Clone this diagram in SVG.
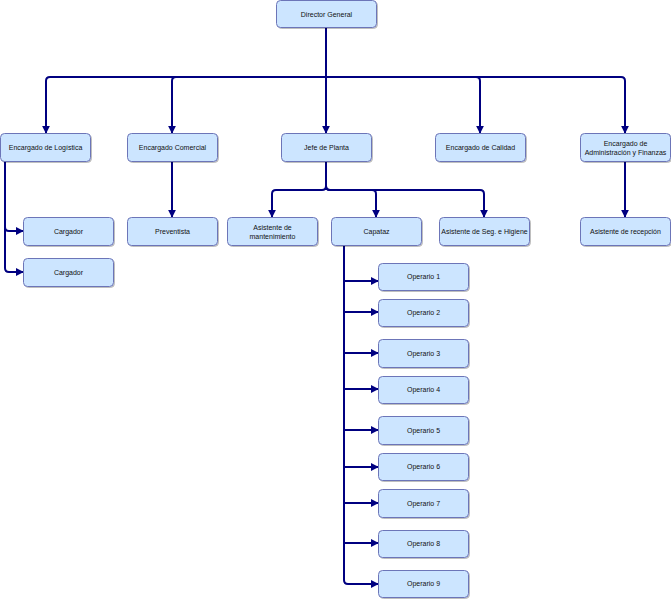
<svg xmlns="http://www.w3.org/2000/svg" width="671" height="600" viewBox="0 0 671 600">
<defs>
<marker id="ah" viewBox="0 0 10 10" refX="9" refY="5" markerWidth="4" markerHeight="4" orient="auto" markerUnits="strokeWidth">
<path d="M0,0 L10,5 L0,10 Z" fill="#000080"/>
</marker>
<filter id="sh" x="-10%" y="-10%" width="130%" height="140%">
<feDropShadow dx="1" dy="1" stdDeviation="0.6" flood-color="#000" flood-opacity="0.25"/>
</filter>
</defs>
<style>
.b{fill:#cce5ff;stroke:#6c74b8;stroke-width:1;filter:url(#sh)}
.t{font-family:"Liberation Sans",Arial,sans-serif;font-size:7px;fill:#111;text-anchor:middle}
.c{fill:none;stroke:#000080;stroke-width:2;marker-end:url(#ah);stroke-linejoin:round}
.l{fill:none;stroke:#000080;stroke-width:2}
</style>
<rect width="671" height="600" fill="#fff"/>
<g id="connectors">
<path class="l" d="M326,27 V77"/>
<path class="c" d="M326,77 H50 Q46,77 46,81 V133"/>
<path class="c" d="M326,77 H176 Q172,77 172,81 V133"/>
<path class="c" d="M326,77 V133"/>
<path class="c" d="M326,77 H476 Q480,77 480,81 V133"/>
<path class="c" d="M326,77 H621 Q625,77 625,81 V133"/>
<path class="c" d="M172,161 V217"/>
<path class="c" d="M625,161 V217"/>
<path class="c" d="M5,161 V227 Q5,231 9,231 H23"/>
<path class="c" d="M5,161 V268 Q5,272 9,272 H23"/>
<path class="l" d="M326,161 V190"/>
<path class="c" d="M326,186 Q326,190 322,190 H276 Q272,190 272,194 V217"/>
<path class="c" d="M326,186 Q326,190 330,190 H372 Q376,190 376,194 V217"/>
<path class="c" d="M326,186 Q326,190 330,190 H480 Q484,190 484,194 V217"/>
<path class="c" d="M344,245 V281 H378"/>
<path class="c" d="M344,245 V312 H378"/>
<path class="c" d="M344,245 V353 H378"/>
<path class="c" d="M344,245 V389 H378"/>
<path class="c" d="M344,245 V430 H378"/>
<path class="c" d="M344,245 V467 H378"/>
<path class="c" d="M344,245 V503 H378"/>
<path class="c" d="M344,245 V543 H378"/>
<path class="c" d="M344,245 V580 Q344,584 348,584 H378"/>
</g>
<g id="director"><rect class="b" x="276.5" y="0.5" width="100" height="27" rx="4"/><text class="t" x="326.5" y="16.5">Director General</text></g>
<g id="logistica"><rect class="b" x="0.5" y="133.5" width="90" height="28" rx="4"/><text class="t" x="45.5" y="150">Encargado de Logística</text></g>
<g id="comercial"><rect class="b" x="127.5" y="133.5" width="90" height="28" rx="4"/><text class="t" x="172.5" y="150">Encargado Comercial</text></g>
<g id="jefe"><rect class="b" x="281.5" y="133.5" width="90" height="28" rx="4"/><text class="t" x="326.5" y="150">Jefe de Planta</text></g>
<g id="calidad"><rect class="b" x="435.5" y="133.5" width="90" height="28" rx="4"/><text class="t" x="480.5" y="150">Encargado de Calidad</text></g>
<g id="admin"><rect class="b" x="580.5" y="133.5" width="90" height="28" rx="4"/><text class="t" x="625.5" y="146">Encargado de</text><text class="t" x="625.5" y="155">Administración y Finanzas</text></g>
<g id="cargador1"><rect class="b" x="23.5" y="217.5" width="90" height="28" rx="4"/><text class="t" x="68.5" y="234">Cargador</text></g>
<g id="cargador2"><rect class="b" x="23.5" y="258.5" width="90" height="28" rx="4"/><text class="t" x="68.5" y="275">Cargador</text></g>
<g id="preventista"><rect class="b" x="127.5" y="217.5" width="90" height="28" rx="4"/><text class="t" x="172.5" y="234">Preventista</text></g>
<g id="mantenimiento"><rect class="b" x="227.5" y="217.5" width="90" height="28" rx="4"/><text class="t" x="272.5" y="229.5">Asistente de</text><text class="t" x="272.5" y="238.5">mantenimiento</text></g>
<g id="capataz"><rect class="b" x="331.5" y="217.5" width="90" height="28" rx="4"/><text class="t" x="376.5" y="234">Capataz</text></g>
<g id="seguridad"><rect class="b" x="439.5" y="217.5" width="90" height="28" rx="4"/><text class="t" x="484.5" y="234">Asistente de Seg. e Higiene</text></g>
<g id="recepcion"><rect class="b" x="580.5" y="217.5" width="90" height="28" rx="4"/><text class="t" x="625.5" y="234">Asistente de recepción</text></g>
<g id="op1"><rect class="b" x="378.5" y="263.5" width="90" height="27" rx="4"/><text class="t" x="423.5" y="279">Operario 1</text></g>
<g id="op2"><rect class="b" x="378.5" y="299.5" width="90" height="27" rx="4"/><text class="t" x="423.5" y="315">Operario 2</text></g>
<g id="op3"><rect class="b" x="378.5" y="339.5" width="90" height="28" rx="4"/><text class="t" x="423.5" y="356">Operario 3</text></g>
<g id="op4"><rect class="b" x="378.5" y="376.5" width="90" height="27" rx="4"/><text class="t" x="423.5" y="392">Operario 4</text></g>
<g id="op5"><rect class="b" x="378.5" y="416.5" width="90" height="28" rx="4"/><text class="t" x="423.5" y="433">Operario 5</text></g>
<g id="op6"><rect class="b" x="378.5" y="453.5" width="90" height="27" rx="4"/><text class="t" x="423.5" y="469">Operario 6</text></g>
<g id="op7"><rect class="b" x="378.5" y="489.5" width="90" height="28" rx="4"/><text class="t" x="423.5" y="506">Operario 7</text></g>
<g id="op8"><rect class="b" x="378.5" y="530.5" width="90" height="27" rx="4"/><text class="t" x="423.5" y="546">Operario 8</text></g>
<g id="op9"><rect class="b" x="378.5" y="570.5" width="90" height="27" rx="4"/><text class="t" x="423.5" y="586">Operario 9</text></g>
</svg>
